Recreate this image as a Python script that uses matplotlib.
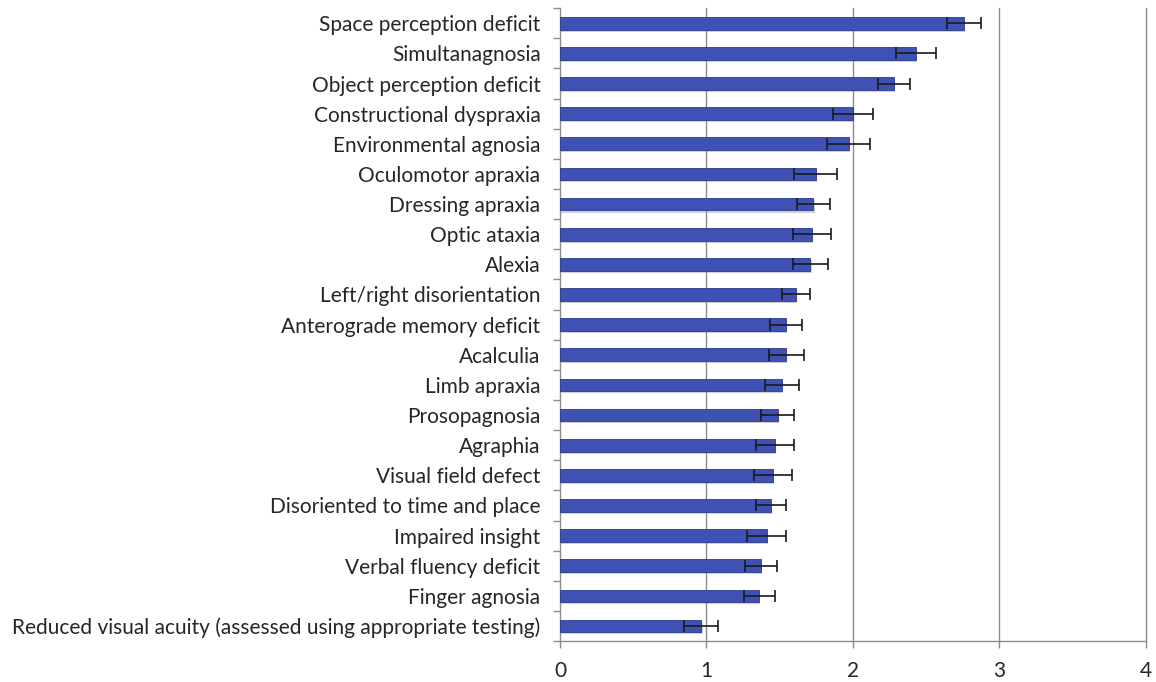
import matplotlib
matplotlib.use("Agg")
import matplotlib.pyplot as plt
import numpy as np

categories = [
    "Space perception deficit",
    "Simultanagnosia",
    "Object perception deficit",
    "Constructional dyspraxia",
    "Environmental agnosia",
    "Oculomotor apraxia",
    "Dressing apraxia",
    "Optic ataxia",
    "Alexia",
    "Left/right disorientation",
    "Anterograde memory deficit",
    "Acalculia",
    "Limb apraxia",
    "Prosopagnosia",
    "Agraphia",
    "Visual field defect",
    "Disoriented to time and place",
    "Impaired insight",
    "Verbal fluency deficit",
    "Finger agnosia",
    "Reduced visual acuity (assessed using appropriate testing)",
]
means = [2.76, 2.43, 2.28, 2.00, 1.97, 1.745, 1.73, 1.72, 1.71, 1.61, 1.545,
         1.545, 1.515, 1.485, 1.47, 1.455, 1.44, 1.41, 1.37, 1.36, 0.965]
errors = [0.115, 0.135, 0.11, 0.135, 0.145, 0.145, 0.11, 0.13, 0.12, 0.095, 0.11,
          0.12, 0.115, 0.11, 0.13, 0.13, 0.10, 0.13, 0.11, 0.105, 0.115]
x_ticks = [0, 1, 2, 3, 4]

plt.rcParams["font.family"] = ["Lato", "DejaVu Sans"]

fig = plt.figure(figsize=(11.56, 6.82), dpi=100)
ax = fig.add_axes([0.4844, 0.060, 0.5069, 0.928])

n = len(categories)
y = np.arange(n)
bar_h = 0.42

# soft drop shadow under each bar
ax.barh(y + 0.07, means, height=bar_h, left=0.008, color="#7a7a85", alpha=0.35,
        zorder=2, linewidth=0)
ax.barh(y, means, height=bar_h, color="#3F51B5", edgecolor="#2c3a8a",
        linewidth=0.6, zorder=3)
ax.errorbar(means, y, xerr=errors, fmt="none", ecolor="#1a1a1a",
            elinewidth=1.2, capsize=4.5, capthick=1.2, zorder=4)

ax.set_ylim(n - 0.5, -0.5)
ax.set_xlim(0, 4)
ax.set_xticks(x_ticks)
ax.set_xticklabels([str(t) for t in x_ticks])

ax.set_yticks(y)
ax.set_yticklabels(categories)
ax.set_yticks(np.arange(-0.5, n, 1.0), minor=True)
ax.tick_params(axis="y", which="major", length=0, pad=14, labelsize=15,
               labelcolor="#262626")
ax.tick_params(axis="y", which="minor", length=5, color="#8c8c8c", width=1)
ax.tick_params(axis="x", which="major", length=5, color="#8c8c8c", width=1,
               pad=9, labelsize=15, labelcolor="#262626")

for t in x_ticks[1:]:
    ax.axvline(t, color="#8c8c8c", linewidth=1, zorder=1, clip_on=False)

for side in ["top", "right"]:
    ax.spines[side].set_visible(False)
for side in ["left", "bottom"]:
    ax.spines[side].set_color("#8c8c8c")
    ax.spines[side].set_linewidth(1)

fig.savefig("out.png", dpi=100)
